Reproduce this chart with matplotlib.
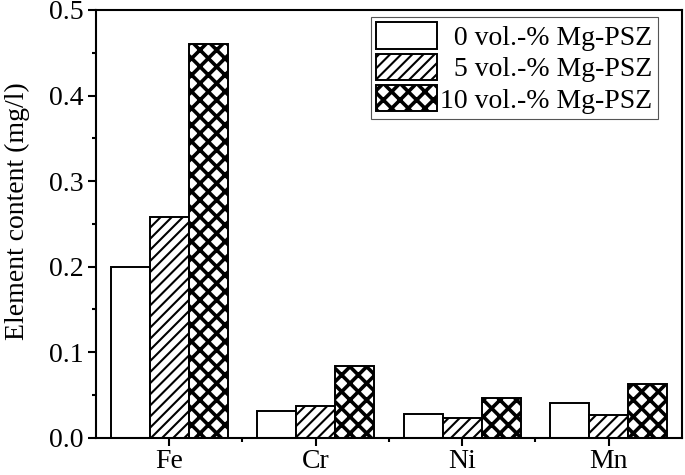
import matplotlib
matplotlib.use("Agg")
from matplotlib import pyplot as plt
import numpy as np

# ---- data ----
elements = ["Fe", "Cr", "Ni", "Mn"]
series_labels = ["\u20070 vol.-% Mg-PSZ", "\u20075 vol.-% Mg-PSZ", "10 vol.-% Mg-PSZ"]
vals_0 = [0.200, 0.031, 0.028, 0.040]
vals_5 = [0.258, 0.037, 0.023, 0.026]
vals_10 = [0.460, 0.084, 0.047, 0.063]

plt.rcParams['font.family'] = ['Liberation Serif', 'DejaVu Serif']
plt.rcParams['hatch.color'] = 'black'

fig = plt.figure(figsize=(6.85, 4.75), dpi=100)
ax = fig.add_axes([0.140, 0.0785, 0.8556, 0.9005])

x = np.arange(len(elements))
w = 0.266
hatches = ["", "///", "xx"]
hatch_lw = [1.0, 1.5, 2.6]
for i, (vals, lab) in enumerate(zip([vals_0, vals_5, vals_10], series_labels)):
    with plt.rc_context({'hatch.linewidth': hatch_lw[i]}):
        ax.bar(x + (i - 1) * w, vals, width=w, facecolor='white', edgecolor='black',
               linewidth=1.4, hatch=hatches[i], label=lab)

ax.set_xlim(-0.5, 3.5)
ax.set_ylim(0, 0.5)
ax.set_xticks(x)
ax.set_xticklabels(elements)
ax.set_xticks(np.arange(-0.5, 3.6, 1.0)[1:-1], minor=True)
ax.set_yticks(np.arange(0, 0.51, 0.1))
ax.set_yticklabels(["%.1f" % v for v in np.arange(0, 0.51, 0.1)])
ax.set_yticks(np.arange(0.05, 0.5, 0.1), minor=True)

for s in ax.spines.values():
    s.set_linewidth(1.5)
ax.tick_params(axis='both', which='major', direction='out', length=6, width=1.5,
               labelsize=20, pad=3)
ax.tick_params(axis='both', which='minor', direction='out', length=3, width=1.5)
ax.tick_params(axis='x', which='major', pad=2)

ax.set_ylabel("Element content (mg/l)", fontsize=20)
ax.yaxis.set_label_coords(-0.113, 0.53)

leg = ax.legend(loc='upper right', bbox_to_anchor=(0.959, 0.984), fontsize=20,
                handlelength=2.2, handleheight=1.08, labelspacing=0.1,
                borderpad=0.2, handletextpad=0.1, borderaxespad=0,
                fancybox=False, framealpha=1, edgecolor='#555555')
leg.get_frame().set_linewidth(0.8)
for h, lw in zip(leg.get_patches(), hatch_lw):
    if hasattr(h, 'set_hatch_linewidth'):
        h.set_hatch_linewidth(lw)

fig.savefig("out.png", dpi=100)
